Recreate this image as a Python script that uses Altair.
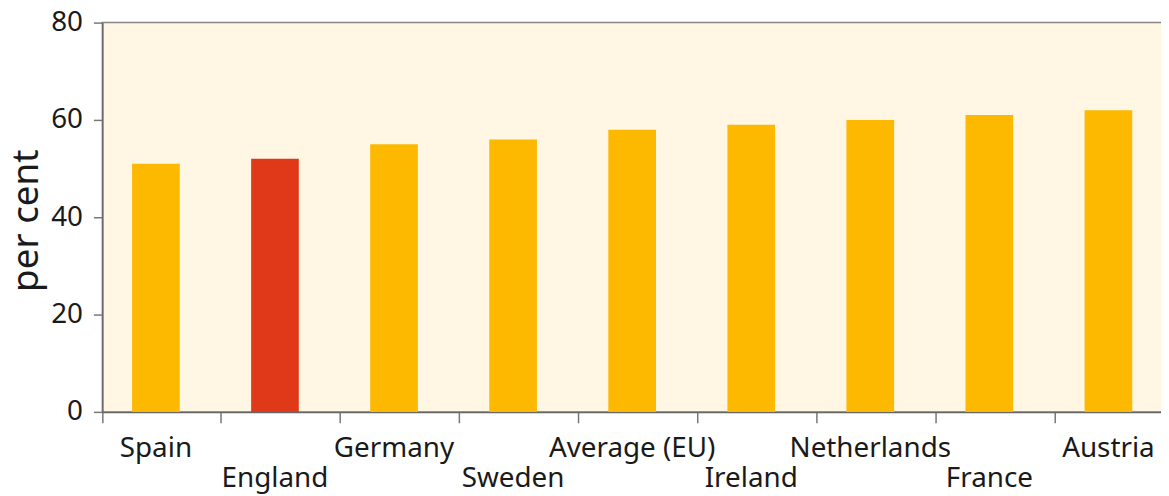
import altair as alt
import pandas as pd

countries = ["Spain", "England", "Germany", "Sweden", "Average (EU)",
             "Ireland", "Netherlands", "France", "Austria"]
values = [51, 52, 55, 56, 58, 59, 60, 61, 62]
highlight = ["no", "yes", "no", "no", "no", "no", "no", "no", "no"]
lower_row = ["England", "Sweden", "Ireland", "France"]
y_ticks = [0, 20, 40, 60, 80]

df = pd.DataFrame({"country": countries, "value": values, "hl": highlight})

FONT = "Noto Sans"
label_expr = ("indexof(" + str(lower_row) + ", datum.label) >= 0 ? ['', datum.label] : datum.label")

chart = alt.Chart(df).mark_bar(width=48, xOffset=-6).encode(
    x=alt.X("country:N", sort=countries,
            scale=alt.Scale(paddingInner=0, paddingOuter=0, round=False),
            axis=alt.Axis(title=None, labelAngle=0, bandPosition=0, labelOffset=-6,
                          labelExpr=label_expr, labelFont=FONT, labelFontSize=28,
                          labelColor="#1a1a1a", labelLineHeight=30, labelPadding=12,
                          labelBaseline="top", tickSize=11, tickColor="#777",
                          tickWidth=1.5, domainColor="#666", domainWidth=1.5,
                          labelOverlap=False, labelBound=False)),
    y=alt.Y("value:Q", scale=alt.Scale(domain=[0, 80], nice=False),
            axis=alt.Axis(values=y_ticks, title="per cent", titleFont=FONT,
                          titleFontSize=37, titleFontWeight="normal", titleColor="#1a1a1a",
                          titleX=-76, titleY=199, titleAngle=-90, titleAlign="center",
                          titleBaseline="middle", labelFont=FONT, labelFontSize=28,
                          labelColor="#1a1a1a", labelPadding=11, tickSize=9,
                          tickColor="#777", tickWidth=1.5, domainColor="#666",
                          domainWidth=1.5, grid=False)),
    color=alt.Color("hl:N", scale=alt.Scale(domain=["no", "yes"],
                                            range=["#FDB800", "#E0391A"]), legend=None),
).properties(
    width=1079, height=392,
    autosize=alt.AutoSizeParams(type="none"),
    padding={"left": 95, "top": 13, "right": -13, "bottom": 83},
    background="white",
).configure_view(fill="#FFF6E3", stroke="#888", strokeWidth=1.5)

chart.save("out.html", embed_options={"renderer": "svg", "actions": False})
